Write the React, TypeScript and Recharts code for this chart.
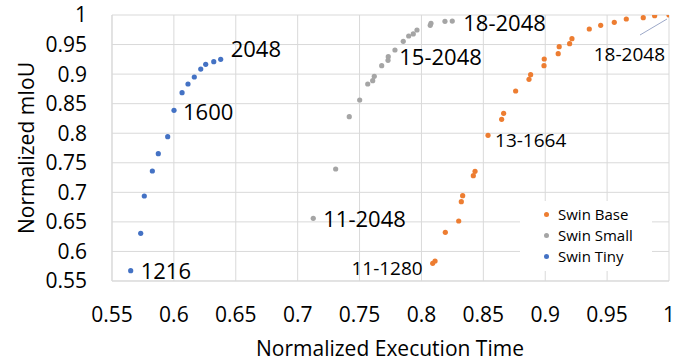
import React from "react";
import { ScatterChart, Scatter, XAxis, YAxis, CartesianGrid, ReferenceDot } from "recharts";

// Swin Base
const baseTime = [0.8091, 0.811, 0.8193, 0.8301, 0.8322, 0.8333, 0.8419, 0.8433, 0.8538, 0.8648, 0.8664, 0.8761, 0.8869, 0.8882, 0.899, 0.8992, 0.9105, 0.9113, 0.9197, 0.9216, 0.9356, 0.9448, 0.9558, 0.9655, 0.9792, 0.9884, 1.0];
const baseMiou = [0.5799, 0.5838, 0.6324, 0.6515, 0.6842, 0.6943, 0.7281, 0.7356, 0.7965, 0.8235, 0.8337, 0.8714, 0.8912, 0.899, 0.9143, 0.9256, 0.9346, 0.9464, 0.9515, 0.9599, 0.9763, 0.9826, 0.9876, 0.9932, 0.9955, 0.9988, 1.0];

// Swin Small
const smallTime = [0.7126, 0.7307, 0.7417, 0.7501, 0.7566, 0.7606, 0.7619, 0.7679, 0.773, 0.7732, 0.7786, 0.7853, 0.7897, 0.7934, 0.7964, 0.8071, 0.8077, 0.819, 0.8249];
const smallMiou = [0.6561, 0.7395, 0.828, 0.8562, 0.8833, 0.8889, 0.8963, 0.9143, 0.9234, 0.9295, 0.9408, 0.9555, 0.9645, 0.9679, 0.9746, 0.9826, 0.9859, 0.9893, 0.9898];

// Swin Tiny
const tinyTime = [0.5651, 0.5732, 0.5761, 0.5826, 0.5874, 0.595, 0.6001, 0.6066, 0.6114, 0.6165, 0.6217, 0.6257, 0.6322, 0.6378];
const tinyMiou = [0.5674, 0.6307, 0.6938, 0.7361, 0.7654, 0.7942, 0.8388, 0.8686, 0.8833, 0.8951, 0.9086, 0.9166, 0.921, 0.925];

// point annotations (index into series)
const baseLabels = [{ index: 0, text: "11-1280" }, { index: 8, text: "13-1664" }, { index: 26, text: "18-2048" }];
const smallLabels = [{ index: 0, text: "11-2048" }, { index: 9, text: "15-2048" }, { index: 18, text: "18-2048" }];
const tinyLabels = [{ index: 0, text: "1216" }, { index: 6, text: "1600" }, { index: 13, text: "2048" }];

const xTicks = [0.55, 0.6, 0.65, 0.7, 0.75, 0.8, 0.85, 0.9, 0.95, 1];
const yTicks = [0.55, 0.6, 0.65, 0.7, 0.75, 0.8, 0.85, 0.9, 0.95, 1];

const FONT = "'Open Sans', sans-serif";
const COLORS = { base: "#ED7D31", small: "#A5A5A5", tiny: "#4472C4" };

const zip = (xs: number[], ys: number[]) => xs.map((x, i) => ({ x, y: ys[i] }));
const baseData = zip(baseTime, baseMiou);
const smallData = zip(smallTime, smallMiou);
const tinyData = zip(tinyTime, tinyMiou);

// label placement relative to the point, in px
const labelStyle: Record<string, { dx: number; dy: number; anchor?: string; size: number; leader?: boolean }> = {
  "tiny-0": { dx: 10, dy: 8, size: 22 },
  "tiny-6": { dx: 9, dy: 10, size: 22 },
  "tiny-13": { dx: 10, dy: -2, size: 22 },
  "small-0": { dx: 10, dy: 9, size: 22 },
  "small-9": { dx: 11, dy: 8, size: 22 },
  "small-18": { dx: 11, dy: 10, size: 22 },
  "base-0": { dx: -10, dy: 12, anchor: "end", size: 19 },
  "base-8": { dx: 7, dy: 12, size: 19 },
  "base-26": { dx: -4, dy: 46, anchor: "end", size: 19, leader: true },
};

const annotations = [
  ...tinyLabels.map((l) => ({ key: `tiny-${l.index}`, ...tinyData[l.index], text: l.text })),
  ...smallLabels.map((l) => ({ key: `small-${l.index}`, ...smallData[l.index], text: l.text })),
  ...baseLabels.map((l) => ({ key: `base-${l.index}`, ...baseData[l.index], text: l.text })),
];

const dot = (color: string) => (p: any) => <circle cx={p.cx} cy={p.cy} r={2.6} fill={color} />;

const fmt = (v: number) => String(Number(v.toFixed(2)));

const legendItems = [
  { name: "Swin Base", color: COLORS.base },
  { name: "Swin Small", color: COLORS.small },
  { name: "Swin Tiny", color: COLORS.tiny },
];

export default function App() {
  return (
    <div style={{ position: "absolute", left: 0, top: 0, width: 694, height: 364, background: "#fff", fontFamily: FONT }}>
      <ScatterChart width={694} height={364} margin={{ top: 15, right: 25, left: 0, bottom: 0 }} style={{ fontFamily: FONT }}>
        <CartesianGrid stroke="#d9d9d9" strokeWidth={1} />
        <XAxis
          type="number"
          dataKey="x"
          domain={[0.55, 1]}
          ticks={xTicks}
          interval={0}
          tickFormatter={fmt}
          height={83}
          tickLine={false}
          tickSize={0}
          tickMargin={26}
          axisLine={{ stroke: "#d9d9d9" }}
          tick={{ fontSize: 21, fill: "#000", fontFamily: FONT }}
          allowDataOverflow
        />
        <YAxis
          type="number"
          dataKey="y"
          domain={[0.55, 1]}
          ticks={yTicks}
          interval={0}
          tickFormatter={fmt}
          width={112}
          tickLine={false}
          tickSize={0}
          tickMargin={25}
          axisLine={{ stroke: "#d9d9d9" }}
          tick={{ fontSize: 21, fill: "#000", fontFamily: FONT }}
          allowDataOverflow
        />
        <Scatter name="Swin Base" data={baseData} fill={COLORS.base} shape={dot(COLORS.base)} isAnimationActive={false} />
        <Scatter name="Swin Small" data={smallData} fill={COLORS.small} shape={dot(COLORS.small)} isAnimationActive={false} />
        <Scatter name="Swin Tiny" data={tinyData} fill={COLORS.tiny} shape={dot(COLORS.tiny)} isAnimationActive={false} />
        {annotations.map((a) => {
          const s = labelStyle[a.key];
          return (
            <ReferenceDot
              key={a.key}
              x={a.x}
              y={a.y}
              r={0}
              ifOverflow="visible"
              shape={(p: any) => (
                <g>
                  {s.leader && (
                    <line x1={p.cx - 29} y1={p.cy + 20} x2={p.cx - 2} y2={p.cy + 4} stroke="#9DA9C9" strokeWidth={1} />
                  )}
                  <text
                    x={p.cx + s.dx}
                    y={p.cy + s.dy}
                    textAnchor={s.anchor || "start"}
                    fontSize={s.size}
                    fontFamily={FONT}
                    fill="#000"
                  >
                    {a.text}
                  </text>
                </g>
              )}
            />
          );
        })}
      </ScatterChart>

      <div
        style={{
          position: "absolute",
          left: 26,
          top: 148,
          transform: "translate(-50%, -50%) rotate(-90deg)",
          fontSize: 21,
          lineHeight: 1,
          whiteSpace: "nowrap",
          color: "#000",
        }}
      >
        Normalized mIoU
      </div>
      <div
        style={{
          position: "absolute",
          left: 390,
          top: 348,
          transform: "translate(-50%, -50%)",
          fontSize: 21,
          lineHeight: 1,
          whiteSpace: "nowrap",
          color: "#000",
        }}
      >
        Normalized Execution Time
      </div>

      <div style={{ position: "absolute", left: 520, top: 201, width: 132, height: 70, background: "#fff" }}>
        {legendItems.map((it, i) => (
          <div
            key={it.name}
            style={{ position: "absolute", left: 24, top: 3 + i * 21, height: 21, display: "flex", alignItems: "center", fontSize: 15, lineHeight: 1, color: "#000", whiteSpace: "nowrap" }}
          >
            <span style={{ display: "inline-block", width: 5, height: 5, borderRadius: "50%", background: it.color, marginRight: 9 }} />
            {it.name}
          </div>
        ))}
      </div>
    </div>
  );
}
